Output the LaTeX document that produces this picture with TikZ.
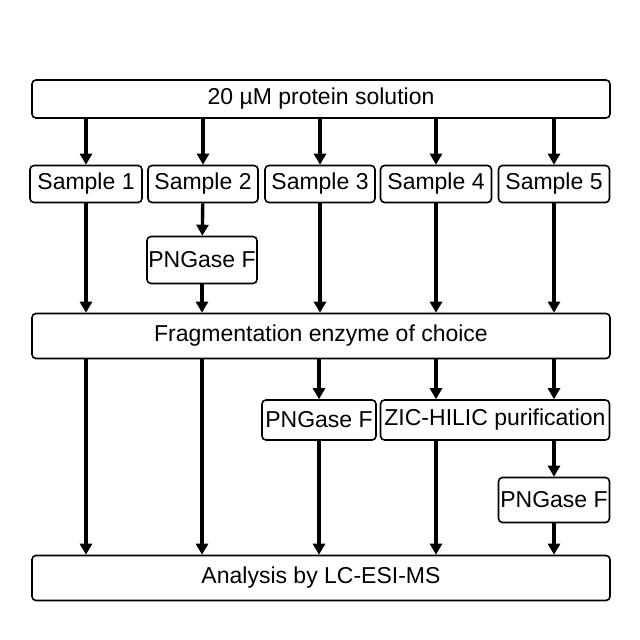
\documentclass[tikz,border=0pt]{standalone}
\usepackage{fontspec}
\setmainfont{Liberation Sans}
\usetikzlibrary{arrows.meta}
\tikzset{
  box/.style={draw, line width=1.6pt, rounded corners=4pt, inner sep=0pt, font=\fontsize{23}{25}\selectfont},
  flow/.style={-{Triangle[length=11pt,width=12pt]}, line width=3.4pt}
}
\begin{document}
\begin{tikzpicture}[x=1pt, y=-1pt]
\useasboundingbox (0,0) rectangle (640,640);

\node[box, minimum width=578pt, minimum height=38pt] (top) at (321,99) {20 µM protein solution};

\node[box, minimum width=112pt, minimum height=37pt] (s1) at (86,184) {Sample 1};
\node[box, minimum width=110pt, minimum height=37pt] (s2) at (203,184) {Sample 2};
\node[box, minimum width=110pt, minimum height=37pt] (s3) at (320,184) {Sample 3};
\node[box, minimum width=111pt, minimum height=37pt] (s4) at (436,184) {Sample 4};
\node[box, minimum width=111pt, minimum height=37pt] (s5) at (554,184) {Sample 5};

\node[box, minimum width=110pt, minimum height=47pt] (p2) at (202,260) {PNGase F};

\node[box, minimum width=578pt, minimum height=45pt] (frag) at (321,336) {Fragmentation enzyme of choice};

\node[box, minimum width=114pt, minimum height=40pt] (p3) at (319,420) {PNGase F};
\node[box, minimum width=229pt, minimum height=40pt] (zic) at (495,420) {ZIC-HILIC purification};
\node[box, minimum width=111pt, minimum height=45pt] (p5) at (554,500) {PNGase F};

\node[box, minimum width=578pt, minimum height=45pt] (ms) at (321,578) {Analysis by LC-ESI-MS};

\foreach \s in {s1,s2,s3,s4,s5}
  \draw[flow] (top.south -| \s) -- (\s);

\draw[flow] (s1) -- (frag.north -| s1);
\draw[flow] (s2) -- (p2);
\draw[flow] (p2) -- (frag.north -| p2);
\draw[flow] (s3) -- (frag.north -| s3);
\draw[flow] (s4) -- (frag.north -| s4);
\draw[flow] (s5) -- (frag.north -| s5);

\draw[flow] (frag.south -| s1) -- (ms.north -| s1);
\draw[flow] (frag.south -| p2) -- (ms.north -| p2);
\draw[flow] (frag.south -| p3) -- (p3);
\draw[flow] (p3) -- (ms.north -| p3);
\draw[flow] (frag.south -| s4) -- (zic.north -| s4);
\draw[flow] (zic.south -| s4) -- (ms.north -| s4);
\draw[flow] (frag.south -| p5) -- (zic.north -| p5);
\draw[flow] (zic.south -| p5) -- (p5);
\draw[flow] (p5) -- (ms.north -| p5);

\end{tikzpicture}
\end{document}
